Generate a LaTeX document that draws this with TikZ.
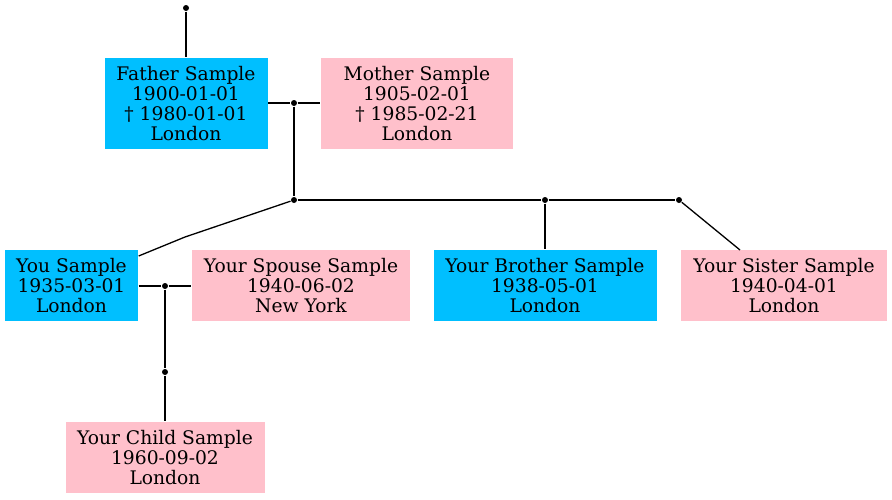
\documentclass[tikz,border=0pt]{standalone}
\usepackage{fontspec}
\setmainfont{DejaVu Serif}
\definecolor{boyblue}{RGB}{0,191,255}
\definecolor{girlpink}{RGB}{255,192,203}
\tikzset{
	person/.style={align=center,inner sep=0pt,font=\fontsize{18.7}{20}\selectfont},
	male/.style={person,fill=boyblue},
	female/.style={person,fill=girlpink},
	dot/.style={circle,fill=black,inner sep=0pt,minimum size=6pt}
}
\begin{document}
\begin{tikzpicture}[x=1pt,y=-1pt,line width=1.3pt]
	\useasboundingbox (0,0) rectangle (892,499);
	% people
	\node[male,minimum width=163pt,minimum height=91pt] (father) at (186,103.5) {Father Sample\\1900-01-01\\† 1980-01-01\\London};
	\node[female,minimum width=192pt,minimum height=91pt] (mother) at (417,103.5) {Mother Sample\\1905-02-01\\† 1985-02-21\\London};
	\node[male,minimum width=133pt,minimum height=71pt] (you) at (71.5,285.5) {You Sample\\1935-03-01\\London};
	\node[female,minimum width=218pt,minimum height=71pt] (spouse) at (301,285.5) {Your Spouse Sample\\1940-06-02\\New York};
	\node[male,minimum width=223pt,minimum height=71pt] (brother) at (545,285.5) {Your Brother Sample\\1938-05-01\\London};
	\node[female,minimum width=206pt,minimum height=71pt] (sister) at (784,285.5) {Your Sister Sample\\1940-04-01\\London};
	\node[female,minimum width=199pt,minimum height=71pt] (child) at (165,457.5) {Your Child Sample\\1960-09-02\\London};
	% junctions
	\node[dot] (top) at (186,8) {};
	\node[dot] (parents) at (294,103) {};
	\node[dot] (family) at (294,200) {};
	\node[dot] (bro) at (545,200) {};
	\node[dot] (sis) at (679,200) {};
	\node[dot] (couple) at (165,286) {};
	\node[dot] (kid) at (165,372) {};
	% connectors
	\draw (top) -- (father.north);
	\draw (father.east |- parents) -- (parents) -- (mother.west |- parents);
	\draw (parents) -- (family) -- (bro) -- (sis);
	\draw (family) -- (185,237) -- (you.north east |- 0,256);
	\draw (bro) -- (brother.north);
	\draw (sis) -- (740,250);
	\draw (you.east |- couple) -- (couple) -- (spouse.west |- couple);
	\draw (couple) -- (kid) -- (child.north);
\end{tikzpicture}
\end{document}
